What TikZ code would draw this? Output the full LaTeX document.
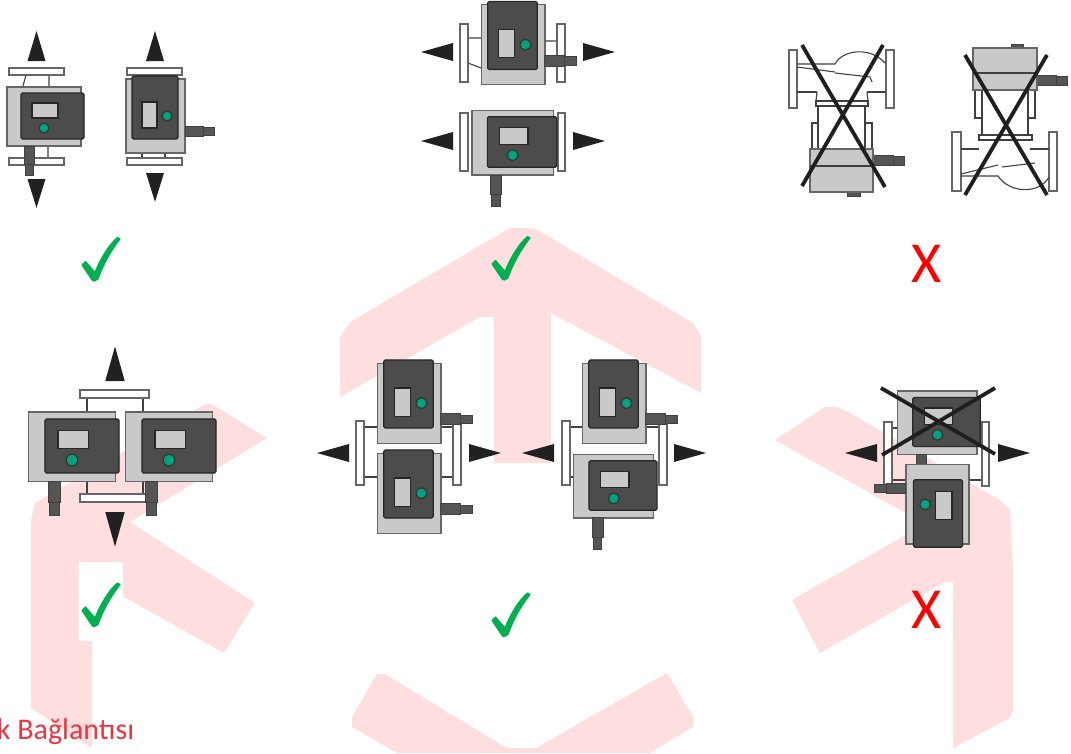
\documentclass[tikz,border=0pt]{standalone}
\usepackage{fontspec}
\setmainfont{Carlito}
\usepackage{tikz}

\definecolor{logopink}{HTML}{FEDEDE}
\definecolor{panelgray}{HTML}{4C4C4C}
\definecolor{bodygray}{HTML}{C9C9C9}
\definecolor{edgegray}{HTML}{666666}
\definecolor{plugdark}{HTML}{555555}
\definecolor{ledgreen}{HTML}{00A37D}
\definecolor{tickgreen}{HTML}{00B050}
\definecolor{captionred}{HTML}{F2333F}

\tikzset{
    pics/pump/.style={code={
        \draw[bodypart] (-45.5,-29) rectangle (28.5,30);
        \draw[plugpart] (-28.5,30) rectangle (-18.5,48);
        \draw[plugpart] (-27.5,48) rectangle (-19.5,59);
        \draw[panelpart] (-31.5,-23) rectangle (31.5,23);
        \draw[displaypart] (-20.5,-13) rectangle (5.5,2);
        \draw[ledpart] (-8.5,12) circle (5);
    }},
    pics/flowtip/.style={code={
        \fill[black!87] (0,-9) -- (32,0) -- (0,9) -- cycle;
    }},
    pics/tick/.style={code={
        \fill[tickgreen, draw=tickgreen, line width=1.2pt, line join=round]
            (4.5,25) -- (14,36) .. controls (19,23) and (28,8) .. (36.5,1)
            -- (39,2.5) .. controls (30,14) and (22,28) .. (17,42.5)
            -- (13.5,44.5) -- (11.5,44) -- (1,28.5) -- cycle;
    }}
}

\begin{document}
\begin{tikzpicture}[
    x=1pt, y=-1pt,
    bodypart/.style={draw=edgegray, fill=bodygray, line width=1.2pt},
    plugpart/.style={draw=black!75, fill=plugdark, line width=1pt},
    panelpart/.style={draw=black!85, fill=panelgray, line width=1.2pt, rounded corners=1.5pt},
    displaypart/.style={draw=black!85, fill=bodygray, line width=1.2pt},
    ledpart/.style={draw=black!80, fill=ledgreen, line width=1.2pt},
    flange/.style={draw=edgegray, fill=white, line width=1.4pt},
    pipeline/.style={draw=black!75, line width=1.1pt},
    crossbar/.style={draw=black!88, line width=3.8pt},
    badmark/.style={text=red, inner sep=0pt, anchor=base, font=\fontsize{58}{60}\selectfont}
]
    \useasboundingbox (0,0) rectangle (1071,753);

    % logo behind everything
    \fill[logopink] (340,337) -- (350,322) -- (503,232) -- (512,228) -- (533,228) -- (543,233)
        -- (693,323) -- (701,335) -- (701,393) -- (551,313) -- (551,463) -- (494,463)
        -- (494,317) -- (480,317) -- (340,397) -- cycle;
    \fill[logopink] (377,674) -- (385,674) -- (500,744) -- (507,748) -- (537,748) -- (550,740)
        -- (665,674) -- (668,674) -- (693,717) -- (693,727) -- (650,753) -- (397,753)
        -- (352,727) -- (352,717) -- cycle;
    \fill[logopink] (92,748) -- (31,708) -- (31,520) -- (35,503) -- (207,403) -- (213,405)
        -- (267,438) -- (130,522) -- (255,603) -- (224,653) -- (92,579) -- cycle;
    \fill[logopink] (775,440) -- (825,407) -- (837,407) -- (850,413) -- (1000,500) -- (1010,510)
        -- (1013,570) -- (1013,710) -- (1010,718) -- (953,748) -- (953,582) -- (945,582)
        -- (820,653) -- (792,600) -- (925,524) -- cycle;
    \fill[white] (79,562) rectangle (123,641);

    % row 1, left
    \draw[pipeline] (26,75) -- (23,86) (49,75) -- (49,86) (48,146) -- (48,158);
    \draw[flange] (9,68) rectangle (64,75);
    \draw[flange] (9,158) rectangle (64,165);
    \pic at (52.5,116) {pump};
    \draw[pipeline] (142,75) -- (142,79) (165,75) -- (165,79) (142,154) -- (142,158) (165,154) -- (165,158);
    \draw[flange] (127,68) rectangle (182,75);
    \draw[flange] (127,158) rectangle (182,165);
    \pic[rotate=90] at (155,107.5) {pump};
    \pic[rotate=90, xscale=0.94] at (36.5,61) {flowtip};
    \pic[rotate=-90, xscale=0.9] at (36.5,179) {flowtip};
    \pic[rotate=90, xscale=0.94] at (155,61) {flowtip};
    \pic[rotate=-90, xscale=0.9] at (155,173) {flowtip};

    % row 1, middle
    \draw[pipeline] (468,38) -- (481,38) (468,63) -- (481,68) (544,41) -- (557,41);
    \draw[flange] (460,24) rectangle (468,82);
    \draw[flange] (557,24) rectangle (565,82);
    \pic[rotate=90, scale=1.08] at (512.5,35.5) {pump};
    \draw[flange] (460,113) rectangle (468,171);
    \draw[flange] (558,113) rectangle (565,171);
    \pic[scale=1.1] at (522,142) {pump};
    \pic[rotate=180] at (453,52) {flowtip};
    \pic at (583,52) {flowtip};
    \pic[rotate=180] at (453,141) {flowtip};
    \pic at (573,141) {flowtip};

    % row 1, right
    \draw[flange] (789,50) rectangle (797,108);
    \draw[flange] (886,50) rectangle (894,108);
    \draw[pipeline] (797,64) -- (835,64) .. controls (842,50) and (870,46) .. (885,63);
    \draw[pipeline] (797,92) -- (817,92) (867,92) -- (886,92);
    \draw[pipeline] (797,67) -- (835,72) (835,73) -- (870,77) -- (872,82);
    \draw[pipeline] (817,92) -- (816,101) (867,92) -- (868,101);
    \draw[pipeline] (816,101) rectangle (868,106);
    \draw[pipeline] (818,106) -- (818,149) (865,106) -- (865,149) (812,149) -- (812,123) -- (818,123) (872,149) -- (872,123) -- (865,123);
    \draw[plugpart] (847,192) rectangle (860,196);
    \draw[plugpart] (873,155) rectangle (893,165);
    \draw[plugpart] (893,156) rectangle (904,165);
    \draw[bodypart] (810,149) rectangle (873,192);
    \draw[pipeline] (810,166) -- (873,166);
    \draw[crossbar] (802,45) -- (885,187) (883,45) -- (802,186);

    \draw[flange] (952,132) rectangle (961,191);
    \draw[flange] (1049,132) rectangle (1057,191);
    \draw[pipeline] (961,149) -- (979,149) (1030,149) -- (1049,149);
    \draw[pipeline] (961,176) -- (998,176) .. controls (1010,194) and (1040,194) .. (1049,177);
    \draw[pipeline] (961,174) -- (998,165) (1002,167) -- (1035,163);
    \draw[pipeline] (979,135) rectangle (1032,140);
    \draw[pipeline] (982,90) -- (982,135) (1028,90) -- (1028,135) (975,90) -- (975,118) -- (982,118) (1035,90) -- (1035,118) -- (1028,118);
    \draw[plugpart] (1011,44) rectangle (1023,48);
    \draw[plugpart] (1037,75) rectangle (1056,85);
    \draw[plugpart] (1056,76) rectangle (1067,85);
    \draw[bodypart] (973,48) rectangle (1037,90);
    \draw[pipeline] (973,73) -- (1037,73);
    \draw[crossbar] (965,55) -- (1047,195) (1047,55) -- (965,195);

    % row 2, left
    \draw[pipeline] (87,398) -- (87,411) (143,398) -- (143,411) (87,481) -- (87,494) (143,481) -- (143,494);
    \draw[flange] (80,390) rectangle (149,398);
    \draw[flange] (80,494) rectangle (149,502);
    \pic[scale=1.175] at (82,446) {pump};
    \pic[scale=1.175] at (179,446) {pump};
    \pic[rotate=90, scale=1.08] at (115,381) {flowtip};
    \pic[rotate=-90, scale=1.08] at (115,512) {flowtip};

    % row 2, middle
    \draw[pipeline] (364,427) -- (377,427) (364,477) -- (377,477) (440,427) -- (453,427) (440,477) -- (453,477);
    \draw[flange] (356,421) rectangle (364,485);
    \draw[flange] (453,421) rectangle (461,485);
    \pic[rotate=90, scale=1.08] at (408.5,394) {pump};
    \pic[rotate=90, scale=1.08] at (408.5,484) {pump};
    \pic[rotate=180] at (349,453) {flowtip};
    \pic at (469,453) {flowtip};

    \draw[pipeline] (570,427) -- (584,427) (570,477) -- (584,477) (645,427) -- (659,427);
    \draw[flange] (562,421) rectangle (570,485);
    \draw[flange] (659,421) rectangle (667,485);
    \pic[rotate=90, scale=1.08] at (613.5,394) {pump};
    \pic[scale=1.08] at (623,485.5) {pump};
    \pic[rotate=180] at (554,453) {flowtip};
    \pic at (674,453) {flowtip};

    % row 2, right
    \draw[pipeline] (892,428) -- (900,428) (892,480) -- (910,480) (968,428) -- (982,428) (968,480) -- (982,480);
    \draw[flange] (884,422) rectangle (892,485);
    \draw[flange] (982,422) rectangle (989,486);
    \pic[scale=1.07] at (946.5,422) {pump};
    \pic[rotate=-90, scale=1.07] at (938,513.5) {pump};
    \draw[crossbar] (881,388) -- (995,454) (882,455) -- (995,388);
    \pic[rotate=180] at (877,453) {flowtip};
    \pic at (998,453) {flowtip};

    % ticks and crosses
    \pic at (81,236.5) {tick};
    \pic at (491,235.5) {tick};
    \pic at (81,582) {tick};
    \pic at (491,592) {tick};
    \node[badmark] (bad_top) at (926.5,282) {X};
    \node[badmark] (bad_bottom) at (926.5,628) {X};

    \node[anchor=base east, inner sep=0pt, text=captionred, font=\fontsize{30}{36}\selectfont] (caption) at (134.5,739) {k Bağlantısı};
\end{tikzpicture}
\end{document}
